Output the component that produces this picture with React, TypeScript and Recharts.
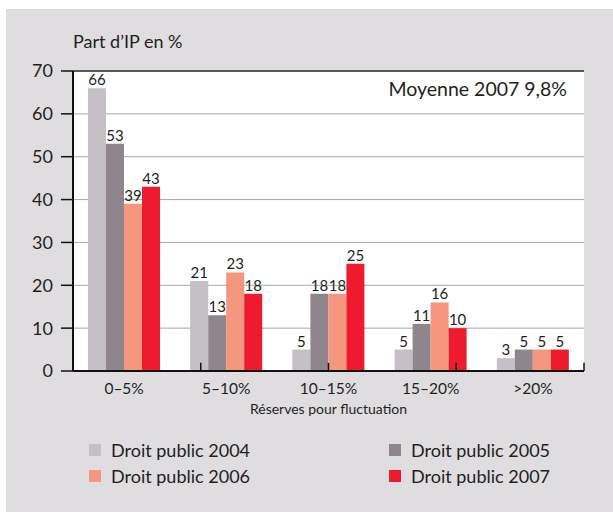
import React from 'react';
import { BarChart, Bar, XAxis, YAxis, CartesianGrid, ReferenceLine, LabelList } from 'recharts';

const categories = ['0–5%', '5–10%', '10–15%', '15–20%', '>20%'];
const dp2004 = [66, 21, 5, 5, 3];
const dp2005 = [53, 13, 18, 11, 5];
const dp2006 = [39, 23, 18, 16, 5];
const dp2007 = [43, 18, 25, 10, 5];
const yTicks = [0, 10, 20, 30, 40, 50, 60, 70];
const boundaries = [1, 2, 3, 4];

const series = [
  { key: 'y2004', name: 'Droit public 2004', color: '#c5bfc6' },
  { key: 'y2005', name: 'Droit public 2005', color: '#8f868d' },
  { key: 'y2006', name: 'Droit public 2006', color: '#f5967f' },
  { key: 'y2007', name: 'Droit public 2007', color: '#ee1b2e' },
];

const data = categories.map((c, i) => ({
  cat: c,
  y2004: dp2004[i],
  y2005: dp2005[i],
  y2006: dp2006[i],
  y2007: dp2007[i],
}));

const FONT = 'Lato, "Noto Sans", sans-serif';
const INK = '#231f20';

const LegendItem = ({ name, color, left, top }: { name: string; color: string; left: number; top: number }) => (
  <div style={{ position: 'absolute', left, top, display: 'flex', alignItems: 'center', height: 20 }}>
    <div style={{ width: 12, height: 12, background: color, marginRight: 10 }} />
    <span style={{ fontSize: 18, color: INK, whiteSpace: 'nowrap' }}>{name}</span>
  </div>
);

export default function App() {
  return (
    <div style={{ position: 'absolute', left: 0, top: 0, width: 613, height: 512, background: '#fff', fontFamily: FONT }}>
      <div style={{ position: 'absolute', left: 6, top: 9, width: 607, height: 503, background: '#dfdde0' }} />
      <div style={{ position: 'absolute', left: 73, top: 30, fontSize: 18, color: INK, whiteSpace: 'nowrap' }}>Part d’IP en %</div>
      <div style={{ position: 'absolute', left: 0, top: 0 }}>
        <BarChart
          width={613}
          height={512}
          data={data}
          margin={{ top: 71, right: 29, bottom: 101, left: 13 }}
          barSize={18}
          barGap={0}
          barCategoryGap={15}
        >
          <CartesianGrid vertical={false} stroke="#a9a9a9" fill="#fff" fillOpacity={1} />
          <XAxis
            dataKey="cat"
            height={40}
            tickLine={false}
            tickSize={0}
            tickMargin={12}
            axisLine={{ stroke: '#111', strokeWidth: 2 }}
            tick={{ fontSize: 15.5, fill: INK, fontFamily: FONT }}
          />
          <XAxis xAxisId="edge" type="number" domain={[0, 5]} hide />
          <YAxis
            width={60}
            domain={[0, 70]}
            ticks={yTicks}
            interval={0}
            tickSize={12}
            tickMargin={8}
            axisLine={{ stroke: '#111', strokeWidth: 2 }}
            tickLine={{ stroke: '#111', strokeWidth: 1.5 }}
            tick={{ fontSize: 18, fill: INK, fontFamily: FONT }}
          />
          <ReferenceLine y={70} stroke="#333" strokeWidth={1.5} />
          <ReferenceLine xAxisId="edge" segment={[{ x: 5, y: 0 }, { x: 5, y: 70 }]} stroke="#111" strokeWidth={1.5} />
          {boundaries.map((b) => (
            <ReferenceLine
              key={b}
              xAxisId="edge"
              segment={[{ x: b, y: 0 }, { x: b, y: 1.9 }]}
              stroke="#111"
              strokeWidth={1.5}
            />
          ))}
          {series.map((s) => (
            <Bar key={s.key} dataKey={s.key} name={s.name} fill={s.color} isAnimationActive={false}>
              <LabelList dataKey={s.key} position="top" offset={3} fill={INK} fontSize={15} fontFamily={FONT} />
            </Bar>
          ))}
        </BarChart>
      </div>
      <div style={{ position: 'absolute', right: 613 - 567, top: 77, fontSize: 19.5, color: INK, whiteSpace: 'nowrap' }}>Moyenne 2007 9,8%</div>
      <div style={{ position: 'absolute', left: 73, width: 511, top: 400, textAlign: 'center', fontSize: 14, color: INK }}>Réserves pour fluctuation</div>
      <LegendItem name={series[0].name} color={series[0].color} left={89} top={440} />
      <LegendItem name={series[2].name} color={series[2].color} left={89} top={466} />
      <LegendItem name={series[1].name} color={series[1].color} left={389} top={440} />
      <LegendItem name={series[3].name} color={series[3].color} left={389} top={466} />
    </div>
  );
}
